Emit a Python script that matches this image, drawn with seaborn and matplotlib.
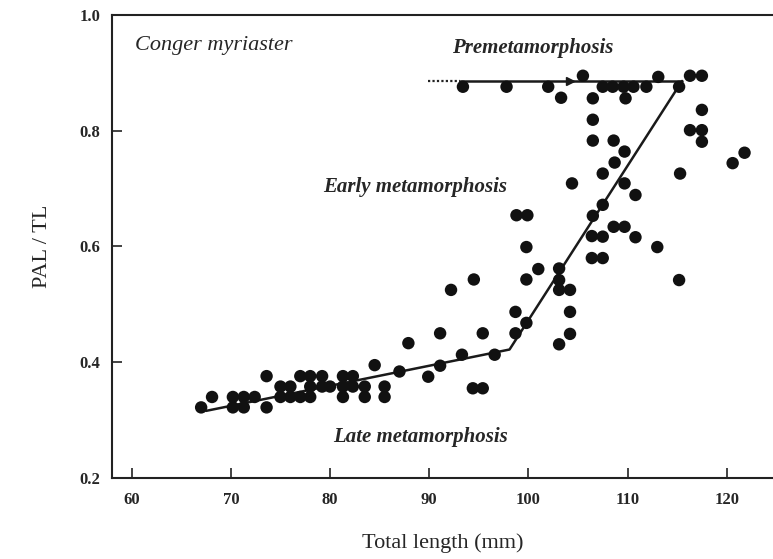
import matplotlib
matplotlib.use("Agg")
import matplotlib.pyplot as plt
import seaborn as sns
import pandas as pd

# ---- data ----
total_length = [67.0, 68.1, 70.2, 71.3, 70.2, 71.3, 72.4, 73.6, 73.6, 75.0,
                75.0, 76.0, 76.0, 77.0, 77.0, 78.0, 78.0, 78.0, 79.2, 79.2,
                80.0, 81.3, 81.3, 81.3, 82.3, 82.3, 83.5, 83.5, 85.5, 85.5,
                84.5, 87.9, 87.0, 89.9, 91.1, 91.1, 92.2, 93.3, 94.5, 94.4,
                95.4, 95.4, 96.6, 98.7, 98.7, 99.8, 99.8, 99.8, 98.8, 99.9,
                101.0, 103.1, 103.1, 103.1, 104.2, 104.2, 104.2, 103.1, 104.4, 106.4,
                106.4, 107.5, 107.5, 106.5, 107.5, 108.6, 109.7, 110.8, 113.0, 115.2,
                107.5, 108.7, 109.7, 108.6, 106.5, 106.5, 109.7, 110.8, 115.3, 120.6,
                121.8, 117.5, 116.3, 117.5, 117.5, 106.5, 109.8, 103.3, 93.4, 97.8,
                102.0, 107.5, 108.5, 109.6, 110.6, 111.9, 115.2, 105.5, 113.1, 116.3,
                117.5]
pal_tl = [0.322, 0.340, 0.322, 0.322, 0.340, 0.340, 0.340, 0.322, 0.376, 0.358,
          0.340, 0.340, 0.358, 0.376, 0.340, 0.376, 0.358, 0.340, 0.376, 0.358,
          0.358, 0.376, 0.358, 0.340, 0.376, 0.358, 0.358, 0.340, 0.358, 0.340,
          0.395, 0.433, 0.384, 0.375, 0.394, 0.450, 0.525, 0.413, 0.543, 0.355,
          0.355, 0.450, 0.413, 0.450, 0.487, 0.468, 0.543, 0.599, 0.654, 0.654,
          0.561, 0.562, 0.542, 0.525, 0.525, 0.487, 0.449, 0.431, 0.709, 0.618,
          0.580, 0.580, 0.617, 0.653, 0.672, 0.634, 0.634, 0.616, 0.599, 0.542,
          0.726, 0.745, 0.764, 0.783, 0.783, 0.819, 0.709, 0.689, 0.726, 0.744,
          0.762, 0.781, 0.801, 0.801, 0.836, 0.856, 0.856, 0.857, 0.876, 0.876,
          0.876, 0.876, 0.876, 0.876, 0.876, 0.876, 0.876, 0.895, 0.893, 0.895,
          0.895]

# fitted broken-line trend
fit_x = [67.5, 98.1, 115.5]
fit_y = [0.316, 0.422, 0.886]
# premetamorphosis level line (dotted start, solid part)
pre_dot_x = [89.9, 93.1]
pre_solid_x = [93.1, 115.5]
pre_level = 0.886
arrow_x = 104.2

x_ticks = [60, 70, 80, 90, 100, 110, 120]
y_ticks = [0.2, 0.4, 0.6, 0.8, 1.0]

df = pd.DataFrame({"TL": total_length, "ratio": pal_tl})
fit_df = pd.DataFrame({"TL": fit_x, "ratio": fit_y})

sns.set_style("ticks")
plt.rcParams["font.family"] = ["Liberation Serif", "DejaVu Serif"]

fig = plt.figure(figsize=(7.73, 5.59), dpi=100)
ax = fig.add_axes([0.1445, 0.1449, 0.8555, 0.8283])

sns.lineplot(data=fit_df, x="TL", y="ratio", ax=ax, color="#1a1a1a",
             linewidth=1.8, estimator=None, sort=False, zorder=2)
sns.scatterplot(data=df, x="TL", y="ratio", ax=ax, color="#111111", s=80,
                edgecolor="none", zorder=3)
ax.plot(pre_dot_x, [pre_level] * 2, color="#222222", lw=1.6, ls=(0, (1, 1)), zorder=2)
ax.plot(pre_solid_x, [pre_level] * 2, color="#1a1a1a", lw=1.8, zorder=2)
ax.plot([arrow_x], [pre_level], marker=">", color="#1a1a1a", ms=6, zorder=2)

ax.set_xlim(57.98, 124.67)
ax.set_ylim(0.2, 1.0)
ax.set_xticks(x_ticks)
ax.set_yticks(y_ticks)
ax.set_xticklabels([str(t) for t in x_ticks], fontsize=12, fontweight="bold")
ax.set_yticklabels([f"{t:.1f}" for t in y_ticks], fontsize=12, fontweight="bold")
ax.tick_params(direction="in", length=7, width=1.2, color="#222222", pad=8)
ax.tick_params(axis="x", pad=10)
for side in ["left", "bottom", "top"]:
    ax.spines[side].set_linewidth(1.5)
    ax.spines[side].set_color("#222222")
ax.spines["right"].set_visible(False)

ax.set_xlabel("Total length (mm)", fontsize=16, labelpad=18)
ax.set_ylabel("PAL / TL", fontsize=16, labelpad=20)

ax.text(60.3, 0.948, "Conger myriaster", fontsize=16, fontstyle="italic",
        va="center")
ax.text(100.4, 0.943, "Premetamorphosis", fontsize=15, fontstyle="italic",
        fontweight="bold", ha="center", va="center")
ax.text(88.6, 0.703, "Early metamorphosis", fontsize=15, fontstyle="italic",
        fontweight="bold", ha="center", va="center")
ax.text(89.1, 0.271, "Late metamorphosis", fontsize=15, fontstyle="italic",
        fontweight="bold", ha="center", va="center")

fig.savefig("out.png", dpi=100)
